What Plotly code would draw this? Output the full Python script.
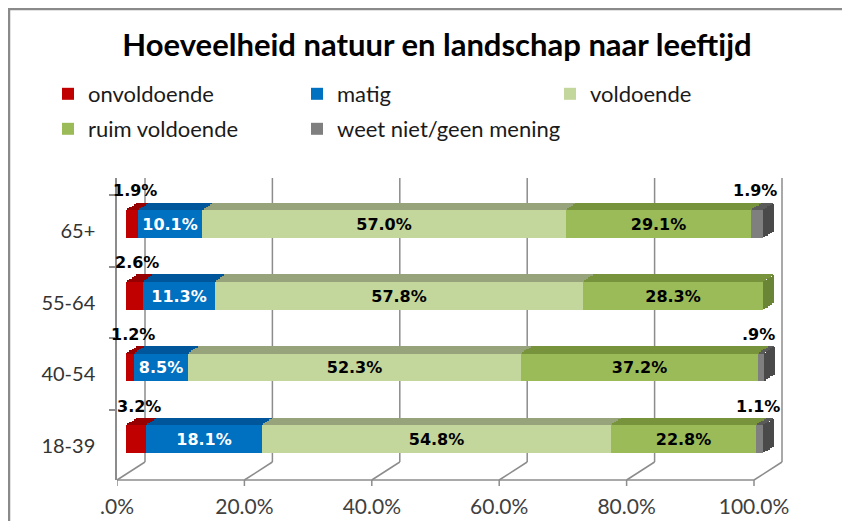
import plotly.graph_objects as go

# ---------------- data ----------------
categories = ["18-39", "40-54", "55-64", "65+"]
series_names = ["onvoldoende", "matig", "voldoende", "ruim voldoende", "weet niet/geen mening"]
onvoldoende = [3.2, 1.2, 2.6, 1.9]
matig = [18.1, 8.5, 11.3, 10.1]
voldoende = [54.8, 52.3, 57.8, 57.0]
ruim_voldoende = [22.8, 37.2, 28.3, 29.1]
weet_niet = [1.1, 0.9, 0.0, 1.9]
x_ticks = [0, 20, 40, 60, 80, 100]

series_values = [onvoldoende, matig, voldoende, ruim_voldoende, weet_niet]
front_colors = ["#C00000", "#0070C0", "#C3D69B", "#9BBB59", "#7F7F7F"]
top_colors = ["#960000", "#00569A", "#97A47B", "#77933C", "#5A5A5A"]
side_colors = ["#7A0000", "#004A80", "#8A9870", "#6A8535", "#4A4A4A"]
inside_text_colors = [None, "white", "black", "black", None]


def fmt(v):
    s = f"{v:.1f}%"
    if s.startswith("0"):
        s = s[1:]
    return s


# ---------------- geometry (figure pixel layout) ----------------
W, H = 834, 513
L, R, T, B = 109, 775, 170, 472
PX = 6.37            # pixels per percent on the bar axis
BAR0 = 118           # pixel of 0% for the bar front faces
CAT_PX = 71.7        # pixels per category
CAT0 = 438           # pixel centre of first category
FRONT_OFF = (109 - BAR0) / PX
BACK_OFF = (137 - BAR0) / PX
FLOOR_DEPTH = 18 / (B - T)
BAR_OFF = -(445 - CAT0) / CAT_PX
BAR_W = 28 / CAT_PX
TOP_DY = 7.0         # pixel height of top face
TOP_DX = 11.0        # pixel skew of top face
K = 5


def pxx(p):
    return (p - L) / (R - L)


def pxy(p):
    return (B - p) / (B - T)


GRID = "#8C8C8C"
FONT = "Lato"
LABEL_FONT = "DejaVu Sans"
legend_keys = ["legend", "legend2", "legend3", "legend4", "legend5"]
legend_pos = [(40, 86), (289, 86), (542, 86), (40, 121), (289, 121)]

fig = go.Figure()

# front faces
for i, (name, vals) in enumerate(zip(series_names, series_values)):
    txt = [fmt(v) if inside_text_colors[i] else "" for v in vals]
    fig.add_trace(go.Bar(
        y=categories, x=vals, orientation="h", name=name,
        marker=dict(color=front_colors[i], line=dict(width=0)),
        width=BAR_W, offset=BAR_OFF,
        text=txt, textposition="inside", insidetextanchor="middle",
        textangle=0, constraintext="none",
        textfont=dict(family=LABEL_FONT, size=16, color=inside_text_colors[i] or "black", weight="bold"),
        legend=legend_keys[i],
        hoverinfo="skip",
    ))

# top faces (strips approximating the 3D parallelogram)
cum = [0.0] * len(categories)
for i, vals in enumerate(series_values):
    for k in range(K):
        fig.add_trace(go.Bar(
            y=categories, x=vals, orientation="h",
            base=[c + (k + 0.5) * (TOP_DX / K) / PX for c in cum],
            width=(TOP_DY / K) / CAT_PX + 0.002,
            offset=BAR_OFF + BAR_W + k * (TOP_DY / K) / CAT_PX,
            marker=dict(color=top_colors[i], line=dict(width=0)),
            showlegend=False, hoverinfo="skip",
        ))
    cum = [c + v for c, v in zip(cum, vals)]

# side faces at the right end
totals = cum
last_idx = []
for j in range(len(categories)):
    idx = max(i for i in range(len(series_values)) if series_values[i][j] > 0)
    last_idx.append(idx)
for k in range(K):
    fig.add_trace(go.Bar(
        y=categories, x=[(TOP_DX / K) / PX + 0.02] * len(categories), orientation="h",
        base=[t + k * (TOP_DX / K) / PX for t in totals],
        width=BAR_W, offset=BAR_OFF + (k + 0.5) * (TOP_DY / K) / CAT_PX,
        marker=dict(color=[side_colors[i] for i in last_idx], line=dict(width=0)),
        showlegend=False, hoverinfo="skip",
    ))

# outside labels for small segments
annotations = []
for j, cat in enumerate(categories):
    v = onvoldoende[j]
    if v > 0:
        annotations.append(dict(x=v / 2, y=cat, xref="x", yref="y", text=fmt(v),
                                showarrow=False, xshift=3, yshift=40,
                                font=dict(family=LABEL_FONT, size=16, color="black", weight="bold")))
    v = weet_niet[j]
    if v > 0:
        annotations.append(dict(x=totals[j] - v / 2, y=cat, xref="x", yref="y", text=fmt(v),
                                showarrow=False, xshift=-2, yshift=40,
                                font=dict(family=LABEL_FONT, size=16, color="black", weight="bold")))

# walls, gridlines, floor
shapes = []
for t in x_ticks:
    shapes.append(dict(type="line", xref="x", yref="paper", x0=t + BACK_OFF, x1=t + BACK_OFF,
                       y0=FLOOR_DEPTH, y1=1, line=dict(color=GRID, width=1.5), layer="below"))
    shapes.append(dict(type="line", xref="x", yref="paper", x0=t + FRONT_OFF, x1=t + BACK_OFF,
                       y0=0, y1=FLOOR_DEPTH, line=dict(color=GRID, width=1.5), layer="below"))
    shapes.append(dict(type="line", xref="x", yref="paper", x0=t + FRONT_OFF, x1=t + FRONT_OFF,
                       y0=0, y1=-6 / (B - T), line=dict(color=GRID, width=1.5), layer="below"))
shapes.append(dict(type="line", xref="x", yref="paper", x0=x_ticks[0] + FRONT_OFF, x1=x_ticks[-1] + FRONT_OFF,
                   y0=0, y1=0, line=dict(color=GRID, width=1.5), layer="below"))
# outer chart frame (top and left edges)
shapes.append(dict(type="line", xref="paper", yref="paper", x0=pxx(0), x1=pxx(W),
                   y0=pxy(1), y1=pxy(1), line=dict(color="#8A8A8A", width=2.5), layer="below"))
shapes.append(dict(type="line", xref="paper", yref="paper", x0=pxx(1), x1=pxx(1),
                   y0=pxy(H), y1=pxy(0), line=dict(color="#8A8A8A", width=2.5), layer="below"))

legends = {}
for key, (lx, ly) in zip(legend_keys, legend_pos):
    legends[key] = dict(orientation="h", xref="container", yref="container",
                        x=lx / W, y=1 - ly / H, xanchor="left", yanchor="middle",
                        font=dict(family=FONT, size=22, color="#1A1A1A"),
                        bgcolor="rgba(0,0,0,0)", borderwidth=0)

fig.update_layout(
    width=W, height=H,
    margin=dict(l=L, r=W - R, t=T, b=H - B, autoexpand=False),
    paper_bgcolor="white", plot_bgcolor="rgba(0,0,0,0)",
    barmode="stack", bargap=0,
    title=dict(text="<b>Hoeveelheid natuur en landschap naar leeftijd</b>",
               xref="container", yref="container", x=429 / W, y=1 - 37 / H,
               xanchor="center", yanchor="middle",
               font=dict(family=FONT, size=31, color="black")),
    xaxis=dict(range=[(L - BAR0) / PX, (R - BAR0) / PX], showgrid=False, zeroline=False,
               showline=False, tickmode="array", tickvals=x_ticks, automargin=False,
               ticktext=[fmt(t) for t in x_ticks], ticks="", ticklabelshift=-9,
               ticklabelstandoff=12,
               tickfont=dict(family=FONT, size=21, color="#404040"), fixedrange=True),
    yaxis=dict(range=[-(B - CAT0) / CAT_PX, (CAT0 - T) / CAT_PX], type="category",
               categoryorder="array", categoryarray=categories, automargin=False,
               showgrid=False, zeroline=False, showline=True, linecolor=GRID, linewidth=1.5,
               ticks="outside", tickson="boundaries", ticklen=6, tickcolor=GRID, tickwidth=1.5,
               ticklabelstandoff=16,
               tickfont=dict(family=FONT, size=20, color="#333333"), fixedrange=True),
    annotations=annotations, shapes=shapes,
    **legends,
)

fig.write_html("out.html")
